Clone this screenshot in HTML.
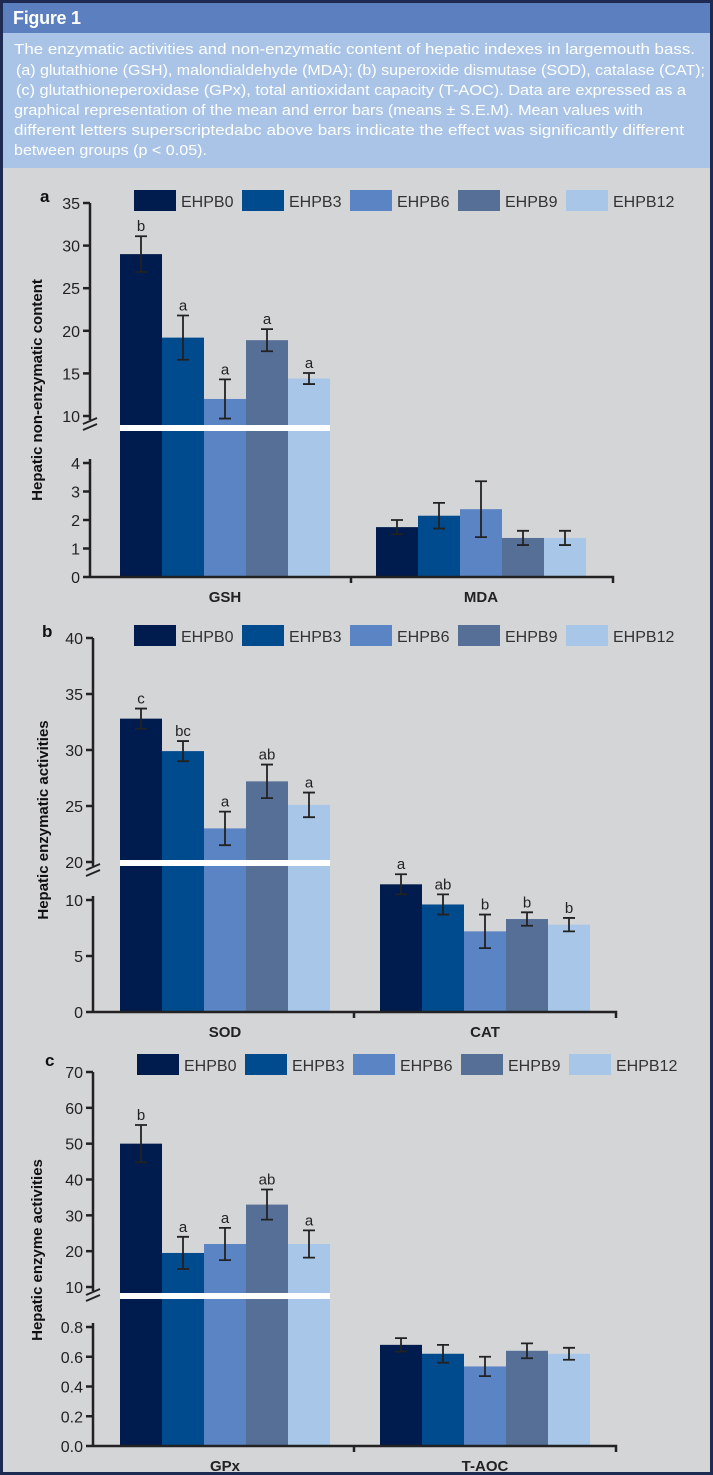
<!DOCTYPE html>
<html><head><meta charset="utf-8"><style>
html,body{margin:0;padding:0;background:#d4d5d7}
svg{display:block}
</style></head><body>
<svg id="fig" width="713" height="1475" viewBox="0 0 713 1475" xmlns="http://www.w3.org/2000/svg" font-family="Liberation Sans, sans-serif">
<rect x="0" y="0" width="713" height="1475" fill="#1d2b52"/>
<rect x="3" y="3" width="707" height="1469" fill="#d4d5d7"/>
<rect x="3" y="3" width="707" height="30" fill="#5b7fbf"/>
<text x="13" y="24" font-size="18" font-weight="bold" fill="#ffffff" textLength="68">Figure 1</text>
<rect x="3" y="33" width="707" height="135" fill="#a9c4e6"/>
<g font-size="15" fill="#ffffff">
<text x="14" y="54" textLength="681" lengthAdjust="spacingAndGlyphs">The enzymatic activities and non-enzymatic content of hepatic indexes in largemouth bass.</text>
<text x="16" y="75" textLength="689" lengthAdjust="spacingAndGlyphs">(a) glutathione (GSH), malondialdehyde (MDA); (b) superoxide dismutase (SOD), catalase (CAT);</text>
<text x="16" y="95" textLength="670" lengthAdjust="spacingAndGlyphs">(c) glutathioneperoxidase (GPx), total antioxidant capacity (T-AOC). Data are expressed as a</text>
<text x="14" y="115" textLength="629" lengthAdjust="spacingAndGlyphs">graphical representation of the mean and error bars (means ± S.E.M). Mean values with</text>
<text x="14" y="135" textLength="670" lengthAdjust="spacingAndGlyphs">different letters superscriptedabc above bars indicate the effect was significantly different</text>
<text x="14" y="155" textLength="193" lengthAdjust="spacingAndGlyphs">between groups (p &lt; 0.05).</text>
</g>
<g id="charts"></g>
</svg>
<script>
const groups = ["EHPB0","EHPB3","EHPB6","EHPB9","EHPB12"];
const colors = ["#001b4d","#004a8e","#5b84c4","#566f97","#a8c6e8"];
// Panel a
const aCategories = ["GSH","MDA"];
const aValues = [[29,19.2,12,18.9,14.4],[1.75,2.15,2.38,1.37,1.37]];
const aErrors = [[2.1,2.6,2.3,1.3,0.65],[0.25,0.45,0.98,0.25,0.25]];
const aLetters = [["b","a","a","a","a"],["","","","",""]];
const aUpperTicks = [10,15,20,25,30,35];
const aLowerTicks = [0,1,2,3,4];
// Panel b
const bCategories = ["SOD","CAT"];
const bValues = [[32.8,29.9,23,27.2,25.1],[11.4,9.6,7.2,8.3,7.8]];
const bErrors = [[0.9,0.9,1.5,1.5,1.1],[0.9,0.9,1.5,0.6,0.6]];
const bLetters = [["c","bc","a","ab","a"],["a","ab","b","b","b"]];
const bUpperTicks = [20,25,30,35,40];
const bLowerTicks = [0,5,10];
// Panel c
const cCategories = ["GPx","T-AOC"];
const cValues = [[50,19.5,22,33,22],[0.68,0.62,0.535,0.64,0.62]];
const cErrors = [[5.2,4.5,4.5,4.2,3.8],[0.045,0.06,0.065,0.05,0.04]];
const cLetters = [["b","a","a","ab","a"],["","","","",""]];
const cUpperTicks = [10,20,30,40,50,60,70];
const cLowerTicks = ["0.0","0.2","0.4","0.6","0.8"];

const NS="http://www.w3.org/2000/svg";
const root=document.getElementById('charts');
function mk(tag,attrs,parent){const e=document.createElementNS(NS,tag);for(const k in attrs)e.setAttribute(k,attrs[k]);(parent||root).appendChild(e);return e;}

function panel(cfg){
  const g=mk('g',{});
  
  
  const ax=cfg.axisX;
  const upLo=+cfg.upperTicks[0], upHi=+cfg.upperTicks[cfg.upperTicks.length-1];
  const loHi=+cfg.lowerTicks[cfg.lowerTicks.length-1];
  const yUp=v=>cfg.upBot+(v-upLo)/(upHi-upLo)*(cfg.upTop-cfg.upBot);
  const yLo=v=>cfg.y0+(v/loHi)*(cfg.loTop-cfg.y0);
  const pl=mk('text',{x:cfg.letterX,y:cfg.legendY+12,'font-size':17,'font-weight':'bold',fill:'#111'},g);
  pl.textContent=cfg.label;
  
  
  groups.forEach((n,i)=>{
    const lx=cfg.legendX+i*108;
    const r=mk('rect',{x:lx,y:cfg.legendY,width:42,height:21,fill:colors[i]},g);
    
    
    const t=mk('text',{x:lx+47,y:cfg.legendY+17,'font-size':16,fill:'#333'},g);
    t.textContent=n;
    
    
  });
  cfg.values.forEach((vals,c)=>{
    const gx=cfg.groupX[c];
    const useUpper=Math.max(...vals)>loHi*1.6;
    const yVal=v=>useUpper?yUp(v):yLo(v);
    vals.forEach((v,i)=>{
      const x=gx+i*42;
      const y=yVal(v);
      const b=mk('rect',{x:x,y:y,width:42,height:cfg.y0-y,fill:colors[i]},g);
      
      
      const e=cfg.errors[c][i];
      const yt=yVal(v+e), yb=yVal(v-e), cx=x+21;
      const eb=mk('path',{d:`M${cx},${yt}V${yb}M${cx-6},${yt}H${cx+6}M${cx-6},${yb}H${cx+6}`,stroke:'#222','stroke-width':1.8,fill:'none'},g);
      
      
      const L=cfg.letters[c][i];
      if(L){
        const lt=mk('text',{x:cx,y:yt-5,'font-size':15,fill:'#222','text-anchor':'middle'},g);
        lt.textContent=L;
        
        
      }
    });
    if(useUpper){
      const band=mk('rect',{x:gx,y:cfg.bandY,width:210,height:6,fill:'#ffffff'},g);
      
      
    }
    const cl=mk('text',{x:gx+105,y:cfg.y0+25,'font-size':15,'font-weight':'bold',fill:'#222','text-anchor':'middle'},g);
    cl.textContent=cfg.categories[c];
    
    
  });
  const ya=mk('path',{d:`M${ax},${cfg.upTop}V${cfg.upBot+4}M${ax},${cfg.loTop-4}V${cfg.y0}`,stroke:'#222','stroke-width':2.5,fill:'none'},g);
  
  
  const bm=mk('path',{d:`M${ax-7},${cfg.upBot+8}L${ax+7},${cfg.upBot+2}M${ax-7},${cfg.upBot+14}L${ax+7},${cfg.upBot+8}`,stroke:'#222','stroke-width':2,fill:'none'},g);
  
  
  const tick=(v,y)=>{
    mk('path',{d:`M${ax-7},${y}H${ax}`,stroke:'#222','stroke-width':2.5},g);
    const t=mk('text',{x:ax-10,y:y+6,'font-size':16,fill:'#222','text-anchor':'end'},g);
    t.textContent=v;
    
    
  };
  cfg.upperTicks.forEach(v=>tick(v,yUp(+v)));
  cfg.lowerTicks.forEach(v=>tick(v,yLo(+v)));
  const xa=mk('path',{d:`M${ax},${cfg.y0}H${cfg.axisEnd}V${cfg.y0+6}M${cfg.midTick},${cfg.y0}V${cfg.y0+6}`,stroke:'#222','stroke-width':2.5,fill:'none'},g);
  
  
  const yt=mk('text',{x:0,y:0,'font-size':15,'font-weight':'bold',fill:'#111','text-anchor':'middle',transform:`translate(${cfg.titleX},${cfg.titleY}) rotate(-90)`},g);
  yt.textContent=cfg.yTitle;
  
  
}

panel({label:'a',categories:aCategories,values:aValues,errors:aErrors,letters:aLetters,upperTicks:aUpperTicks,lowerTicks:aLowerTicks,
  axisX:90,upTop:203,upBot:416,loTop:463,y0:577,bandY:425,groupX:[120,376],axisEnd:613,midTick:351,
  legendX:134,legendY:190,letterX:40,titleX:42,titleY:390,yTitle:'Hepatic non-enzymatic content'});
panel({label:'b',categories:bCategories,values:bValues,errors:bErrors,letters:bLetters,upperTicks:bUpperTicks,lowerTicks:bLowerTicks,
  axisX:93,upTop:638,upBot:862,loTop:900,y0:1012,bandY:860,groupX:[120,380],axisEnd:616,midTick:354,
  legendX:134,legendY:625,letterX:42,titleX:48,titleY:820,yTitle:'Hepatic enzymatic activities'});
panel({label:'c',categories:cCategories,values:cValues,errors:cErrors,letters:cLetters,upperTicks:cUpperTicks,lowerTicks:cLowerTicks,
  axisX:93,upTop:1072,upBot:1287,loTop:1327,y0:1446,bandY:1293,groupX:[120,380],axisEnd:616,midTick:354,
  legendX:137,legendY:1054,letterX:45,titleX:42,titleY:1250,yTitle:'Hepatic enzyme activities'});
</script>
</body></html>
